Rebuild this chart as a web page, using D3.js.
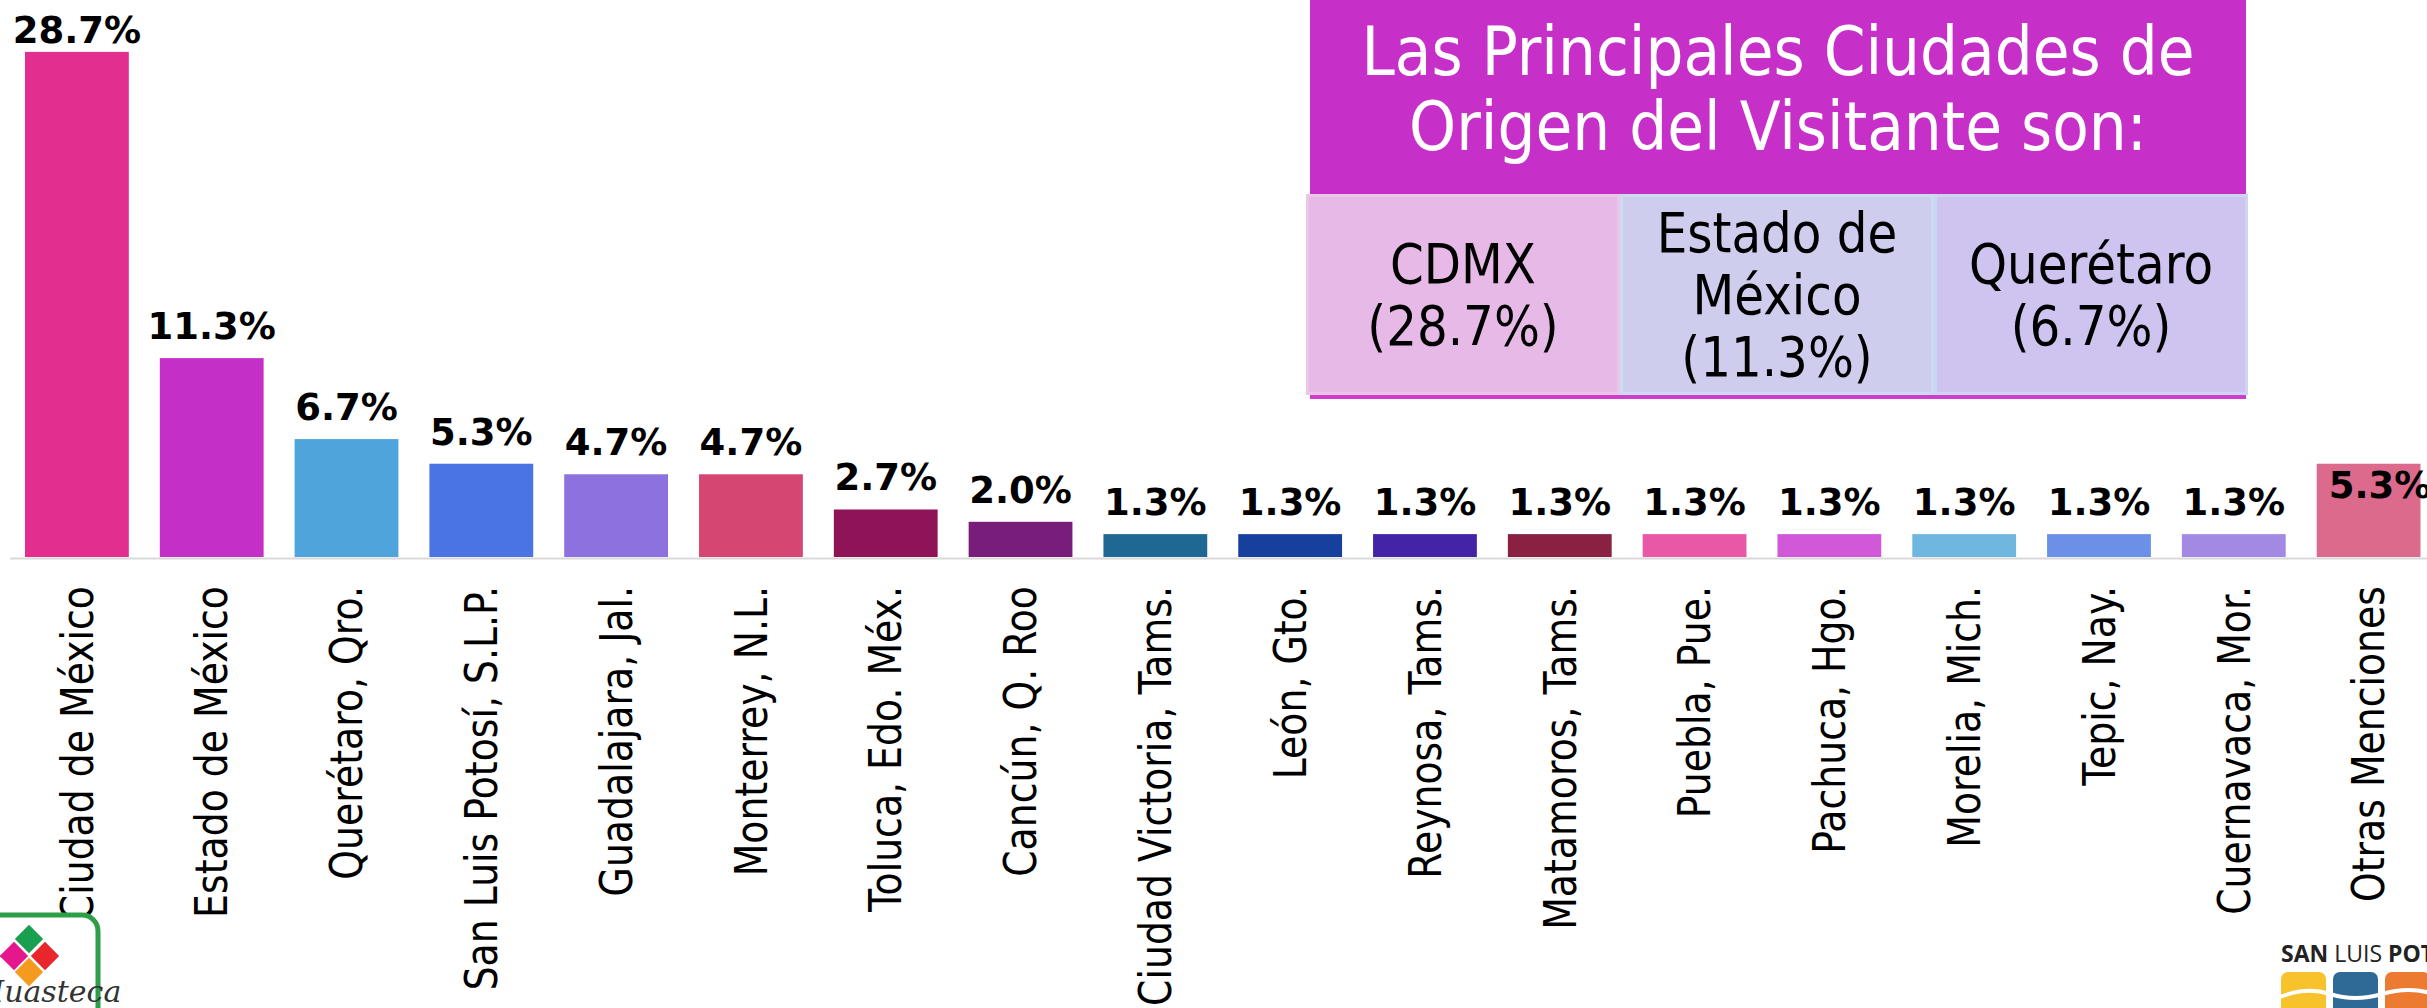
<!DOCTYPE html>
<html>
<head>
<meta charset="utf-8">
<script src="https://cdn.jsdelivr.net/npm/d3@7"></script>
<style>
  body { margin: 0; background: #fff; overflow: hidden; }
  svg { display: block; }
</style>
</head>
<body>
<svg id="chart"></svg>
<script>
const cities = [
  "Ciudad de México", "Estado de México", "Querétaro, Qro.", "San Luis Potosí, S.L.P.",
  "Guadalajara, Jal.", "Monterrey, N.L.", "Toluca, Edo. Méx.", "Cancún, Q. Roo",
  "Ciudad Victoria, Tams.", "León, Gto.", "Reynosa, Tams.", "Matamoros, Tams.",
  "Puebla, Pue.", "Pachuca, Hgo.", "Morelia, Mich.", "Tepic, Nay.",
  "Cuernavaca, Mor.", "Otras Menciones"
]

const shares = [28.7, 11.3, 6.7, 5.3, 4.7, 4.7, 2.7, 2.0, 1.3, 1.3, 1.3, 1.3, 1.3, 1.3, 1.3, 1.3, 1.3, 5.3]

const bar_colors = [
  "#e22e8e", "#c42fc8", "#4fa5db", "#4a74e3", "#8b72df", "#d64673",
  "#8e1457", "#781e7a", "#1f6893", "#173f9e", "#4324a6", "#8b2142",
  "#e958a6", "#d158d8", "#70b7e0", "#6c8fe8", "#a28ae4", "#dc6a8c"
]

const title_lines = ["Las Principales Ciudades de", "Origen del Visitante son:"]
const top_names = [["CDMX"], ["Estado de", "México"], ["Querétaro"]]
const top_fills = ["#e6b9e6", "#cfcdee", "#cec4ef"]
const top_borders = ["#eac6e9", "#ccdcf0", "#ccd6f2"]

const width = 2427
const height = 1008
const font = "'DejaVu Sans', Verdana, sans-serif"

const svg = d3.select("#chart").attr("width", width).attr("height", height)

const x = d3.scaleBand()
  .domain(cities)
  .range([9.5, 2436])
  .paddingInner(0.23)
  .paddingOuter(0.115)

const y = d3.scaleLinear()
  .domain([0, 30])
  .range([557, 29])

const pct = v => d3.format(".1f")(v) + "%"

// bars
svg.append("g")
  .selectAll("rect")
  .data(cities)
  .join("rect")
  .attr("x", d => x(d))
  .attr("y", (d, i) => y(shares[i]))
  .attr("width", x.bandwidth())
  .attr("height", (d, i) => y(0) - y(shares[i]))
  .attr("fill", (d, i) => bar_colors[i])

// axis line + rotated category labels
const axis = svg.append("g")
  .attr("transform", `translate(0,${y(0) + 1})`)
  .call(d3.axisBottom(x).tickSize(0).tickSizeOuter(0))

axis.attr("font-family", font).attr("font-size", 45)
axis.select(".domain").attr("stroke", "#d9d9d9").attr("stroke-width", 2)
axis.selectAll(".tick text")
  .attr("x", 0)
  .attr("y", 0)
  .attr("dy", "0.35em")
  .attr("fill", "#000")
  .attr("text-anchor", "end")
  .attr("transform", "translate(0,28) rotate(-90) scale(0.84,1)")

// value labels
const last = cities.length - 1
svg.append("g")
  .attr("font-family", font)
  .attr("font-size", 37)
  .attr("font-weight", "bold")
  .selectAll("text")
  .data(cities)
  .join("text")
  .attr("x", (d, i) => i === last ? x(d) + 12 : x(d) + x.bandwidth() / 2)
  .attr("y", (d, i) => i === last ? y(shares[i]) + 34 : Math.max(y(shares[i]) - 19, 43))
  .attr("text-anchor", (d, i) => i === last ? "start" : "middle")
  .attr("fill", "#000")
  .text((d, i) => pct(shares[i]))

// highlight box
const box = svg.append("g")
const box_x = 1310
const box_w = 936
const cell_w = 314

box.append("rect")
  .attr("x", box_x).attr("y", -2)
  .attr("width", box_w).attr("height", 198)
  .attr("fill", "#c62fc8")

title_lines.forEach((line, i) => {
  box.append("text")
    .attr("transform", `translate(${box_x + box_w / 2},${75 + i * 75}) scale(0.88,1)`)
    .attr("text-anchor", "middle")
    .attr("font-family", font)
    .attr("font-size", 68)
    .attr("fill", "#fff")
    .text(line)
})

top_names.forEach((lines, i) => {
  const cx = 1306 + i * cell_w
  box.append("rect")
    .attr("x", cx + 1.5).attr("y", 195.5)
    .attr("width", cell_w - 3).attr("height", 198)
    .attr("fill", top_fills[i])
    .attr("stroke", top_borders[i])
    .attr("stroke-width", 3)

  const all_lines = [...lines, "(" + pct(shares[i]) + ")"]
  all_lines.forEach((line, k) => {
    box.append("text")
      .attr("transform", `translate(${cx + cell_w / 2},${314 + (k - (all_lines.length - 1) / 2) * 62}) scale(0.88,1)`)
      .attr("text-anchor", "middle")
      .attr("font-family", font)
      .attr("font-size", 55)
      .attr("fill", "#000")
      .text(line)
  })
})

box.append("rect")
  .attr("x", box_x).attr("y", 395)
  .attr("width", box_w).attr("height", 4)
  .attr("fill", "#d03cd0")

// huasteca logo (bottom left)
const logo_l = svg.append("g")
logo_l.append("rect")
  .attr("x", -30).attr("y", 915)
  .attr("width", 128).attr("height", 130)
  .attr("rx", 16)
  .attr("fill", "#fff")
  .attr("stroke", "#2f9e48")
  .attr("stroke-width", 5)

const petals = [[29, 939, "#1a9e50"], [14, 956, "#e5178c"], [45, 956, "#e8262c"], [29, 972, "#f39a1f"]]
petals.forEach(([px, py, c]) => {
  logo_l.append("rect")
    .attr("x", -10).attr("y", -10)
    .attr("width", 20).attr("height", 20)
    .attr("transform", `translate(${px},${py}) rotate(45)`)
    .attr("fill", c)
})
logo_l.append("text")
  .attr("x", -22).attr("y", 1002)
  .attr("font-family", "'DejaVu Serif', 'Liberation Serif', serif")
  .attr("font-style", "italic")
  .attr("font-size", 30)
  .attr("fill", "#333")
  .text("Huasteca")

// san luis potosi logo (bottom right)
const logo_r = svg.append("g")
const slp = logo_r.append("text")
  .attr("x", 2281).attr("y", 962)
  .attr("font-family", "'Open Sans', sans-serif")
  .attr("font-size", 23)
  .attr("fill", "#222")
slp.append("tspan").attr("font-weight", "bold").text("SAN ")
slp.append("tspan").text("LUIS ")
slp.append("tspan").attr("font-weight", "bold").text("POTOSÍ")

const tiles = [[2281, "#f7c22b"], [2333, "#2f6a96"], [2385, "#ec7a30"]]
tiles.forEach(([tx, c]) => {
  logo_r.append("rect")
    .attr("x", tx).attr("y", 972)
    .attr("width", 45).attr("height", 50)
    .attr("rx", 7)
    .attr("fill", c)
})
logo_r.append("path")
  .attr("d", "M2278,998 Q2305,986 2330,994 T2382,994 T2434,994")
  .attr("fill", "none")
  .attr("stroke", "#fff")
  .attr("stroke-width", 4)
</script>
</body>
</html>
